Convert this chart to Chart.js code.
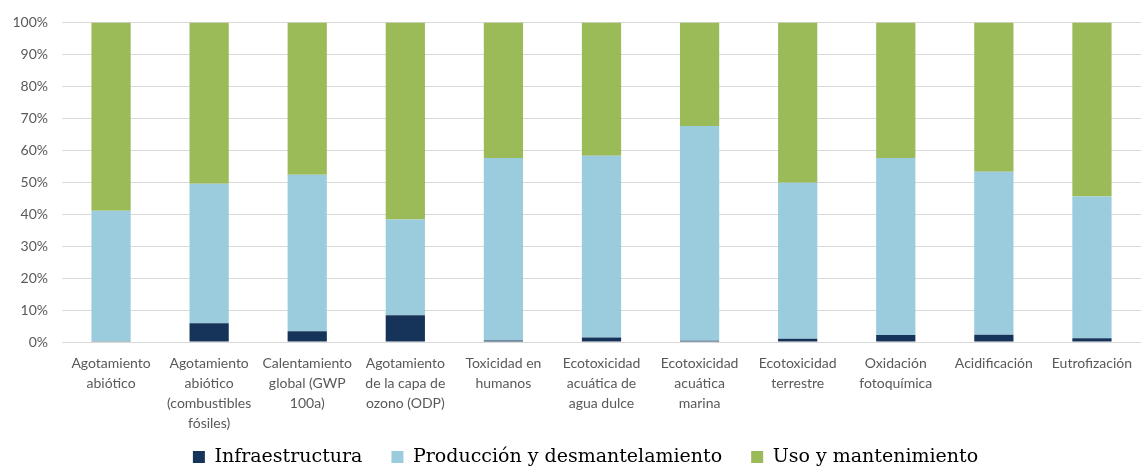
<!DOCTYPE html>
<html>
<head>
<meta charset="utf-8">
<script src="https://cdn.jsdelivr.net/npm/chart.js@4"></script>
<style>
  html, body { margin: 0; padding: 0; background: #ffffff; }
  #wrap { width: 1141px; height: 467px; position: relative; }
</style>
</head>
<body>
<div id="wrap"><canvas id="chart"></canvas></div>
<script>
// Categorías de impacto (etiquetas en varias líneas como en el original)
const categorias = [
    ['Agotamiento', 'abiótico'],
    ['Agotamiento', 'abiótico', '(combustibles', 'fósiles)'],
    ['Calentamiento', 'global (GWP', '100a)'],
    ['Agotamiento', 'de la capa de', 'ozono (ODP)'],
    ['Toxicidad en', 'humanos'],
    ['Ecotoxicidad', 'acuática de', 'agua dulce'],
    ['Ecotoxicidad', 'acuática', 'marina'],
    ['Ecotoxicidad', 'terrestre'],
    ['Oxidación', 'fotoquímica'],
    ['Acidificación'],
    ['Eutrofización']
];

// Porcentajes
const infraestructura = [0.2, 5.9, 3.4, 8.4, 0.5, 1.4, 0.4, 1.0, 2.2, 2.3, 1.2];
const produccion      = [40.9, 43.6, 48.9, 29.9, 57.1, 56.9, 67.2, 48.8, 55.4, 51.0, 44.3];
const uso             = [58.9, 50.5, 47.7, 61.7, 42.4, 41.7, 32.4, 50.2, 42.4, 46.7, 54.5];

const ticksY = [0, 10, 20, 30, 40, 50, 60, 70, 80, 90, 100];

const fuenteEjes = { family: 'Lato', size: 14 };

// ajustes tras el layout: leyenda algo a la derecha y etiquetas X sin recortar
const ajustesLayout = {
    id: 'ajustesLayout',
    afterLayout(chart) {
        if (chart.legend) chart.legend.left += 30;
        chart.scales.x.bottom = chart.height;
    }
};

new Chart(document.getElementById('chart').getContext('2d'), {
    type: 'bar',
    data: {
        labels: categorias,
        datasets: [
            { label: 'Infraestructura', data: infraestructura, backgroundColor: '#16345A' },
            { label: 'Producción y desmantelamiento', data: produccion, backgroundColor: '#9BCCDD' },
            { label: 'Uso y mantenimiento', data: uso, backgroundColor: '#9BBB59' }
        ]
    },
    options: {
        responsive: true,
        maintainAspectRatio: false,
        animation: false,
        datasets: { bar: { barPercentage: 0.4, categoryPercentage: 1.0 } },
        layout: { padding: { top: 13, right: 0, left: 0, bottom: 0 } },
        plugins: {
            tooltip: { enabled: false },
            legend: {
                position: 'bottom',
                maxHeight: 48.5,
                labels: {
                    font: { family: 'DejaVu Serif', size: 19 },
                    color: '#000000',
                    boxWidth: 12,
                    boxHeight: 12,
                    padding: 29
                }
            }
        },
        scales: {
            x: {
                stacked: true,
                afterFit: (s) => { s.height = 76.5; },
                grid: { display: false },
                border: { display: false },
                ticks: {
                    font: { ...fuenteEjes, lineHeight: 1.43 },
                    color: '#595959',
                    maxRotation: 0,
                    autoSkip: false
                }
            },
            y: {
                stacked: true,
                min: 0,
                max: 100,
                afterFit: (s) => { s.width = 62; },
                afterBuildTicks: (s) => { s.ticks = ticksY.map(v => ({ value: v })); },
                grid: { color: '#D9D9D9', drawTicks: false },
                border: { display: false },
                ticks: {
                    font: fuenteEjes,
                    color: '#595959',
                    padding: 14,
                    callback: (v) => v + '%'
                }
            }
        }
    },
    plugins: [ajustesLayout]
});
</script>
</body>
</html>
